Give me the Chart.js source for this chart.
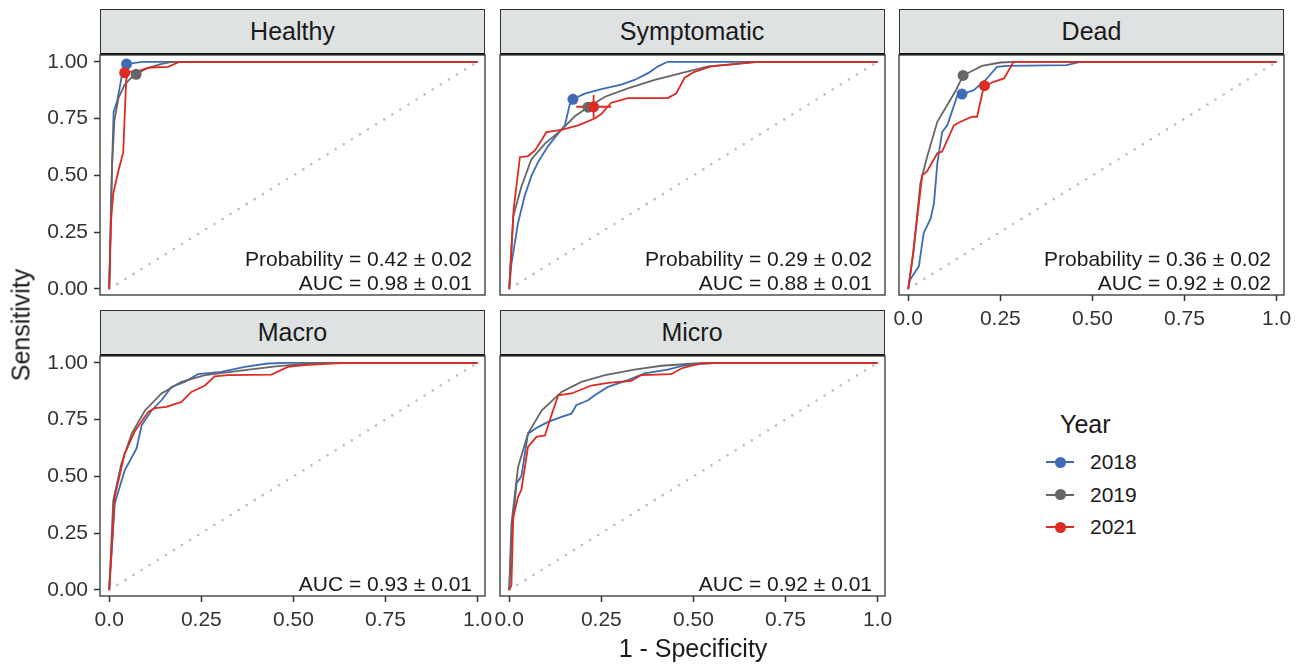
<!DOCTYPE html>
<html>
<head>
<meta charset="utf-8">
<script src="https://cdn.jsdelivr.net/npm/chart.js@4/dist/chart.umd.min.js"></script>
<style>
  body { margin: 0; background: #fff; width: 1303px; height: 665px; position: relative; overflow: hidden;
         font-family: "Liberation Sans", Arial, sans-serif; color: #1a1a1a; }
  canvas { position: absolute; }
  .strip { position: absolute; background: #dee2e2; border: 1px solid #333; border-bottom: 2px solid #111;
           box-sizing: border-box; text-align: center; font-size: 25px; line-height: 43px; }
  .title { position: absolute; font-size: 25px; white-space: nowrap; }
  .key { position: absolute; width: 28px; height: 2px; }
  .key i { position: absolute; left: 9px; top: -4.5px; width: 11px; height: 11px; border-radius: 50%; }
  .keylab { position: absolute; font-size: 21px; line-height: 24px; }
</style>
</head>
<body>
<script>
const years = ['2018', '2019', '2021'];
const yearColors = ['#3d6cb4', '#666666', '#dc2b22'];
const panelNames = ['Healthy', 'Symptomatic', 'Dead', 'Macro', 'Micro'];
const xTickValues = [0, 0.25, 0.5, 0.75, 1];
const xTickLabels = ['0.0', '0.25', '0.50', '0.75', '1.0'];
const yTickValues = [0, 0.25, 0.5, 0.75, 1];
const yTickLabels = ['0.00', '0.25', '0.50', '0.75', '1.00'];

// ROC curves: [1 - specificity, sensitivity]
const healthy2018 = [[0,0],[0.006,0.45],[0.012,0.78],[0.022,0.83],[0.03,0.9],[0.038,0.975],[0.048,0.99],[0.07,0.995],[0.09,1],[1,1]];
const healthy2019 = [[0,0],[0.008,0.55],[0.014,0.74],[0.025,0.84],[0.042,0.9],[0.06,0.93],[0.073,0.945],[0.1,0.97],[0.14,0.99],[0.17,1],[1,1]];
const healthy2021 = [[0,0],[0.005,0.3],[0.011,0.42],[0.025,0.52],[0.033,0.57],[0.038,0.6],[0.046,0.92],[0.052,0.955],[0.08,0.96],[0.11,0.975],[0.16,0.978],[0.19,1],[1,1]];

const symptomatic2018 = [[0,0],[0.006,0.11],[0.024,0.29],[0.042,0.41],[0.061,0.5],[0.079,0.56],[0.106,0.63],[0.133,0.685],[0.151,0.72],[0.164,0.81],[0.173,0.835],[0.205,0.86],[0.25,0.88],[0.304,0.9],[0.34,0.92],[0.377,0.95],[0.404,0.98],[0.43,1],[1,1]];
const symptomatic2019 = [[0,0],[0.011,0.32],[0.033,0.45],[0.06,0.57],[0.097,0.64],[0.142,0.7],[0.178,0.76],[0.214,0.8],[0.26,0.846],[0.322,0.883],[0.395,0.92],[0.467,0.95],[0.54,0.98],[0.61,0.99],[0.68,1],[1,1]];
const symptomatic2021 = [[0,0],[0.012,0.35],[0.029,0.58],[0.051,0.585],[0.07,0.61],[0.101,0.69],[0.142,0.7],[0.187,0.72],[0.232,0.75],[0.25,0.77],[0.277,0.82],[0.322,0.84],[0.43,0.84],[0.453,0.86],[0.476,0.93],[0.503,0.956],[0.548,0.98],[0.61,0.99],[0.666,1],[1,1]];

const dead2018 = [[0,0],[0.005,0.04],[0.029,0.1],[0.042,0.246],[0.061,0.31],[0.07,0.378],[0.079,0.553],[0.092,0.69],[0.106,0.72],[0.133,0.85],[0.146,0.858],[0.178,0.875],[0.21,0.92],[0.241,0.978],[0.268,0.982],[0.43,0.985],[0.467,1],[1,1]];
const dead2019 = [[0,0],[0.015,0.17],[0.033,0.466],[0.051,0.58],[0.079,0.736],[0.106,0.81],[0.128,0.87],[0.149,0.94],[0.169,0.956],[0.2,0.982],[0.25,0.997],[0.29,1],[1,1]];
const dead2021 = [[0,0],[0.011,0.13],[0.038,0.5],[0.051,0.517],[0.079,0.597],[0.092,0.605],[0.124,0.72],[0.142,0.736],[0.173,0.758],[0.187,0.758],[0.205,0.89],[0.232,0.912],[0.26,0.927],[0.286,1],[1,1]];

const macro2018 = [[0,0],[0.015,0.38],[0.042,0.526],[0.074,0.622],[0.088,0.725],[0.115,0.79],[0.142,0.835],[0.169,0.894],[0.205,0.916],[0.241,0.95],[0.304,0.96],[0.368,0.982],[0.43,0.997],[0.485,1],[1,1]];
const macro2019 = [[0,0],[0.011,0.394],[0.033,0.556],[0.061,0.688],[0.097,0.79],[0.142,0.865],[0.196,0.916],[0.26,0.946],[0.368,0.968],[0.458,0.985],[0.548,0.997],[0.61,1],[1,1]];
const macro2021 = [[0,0],[0.015,0.41],[0.042,0.6],[0.07,0.7],[0.106,0.784],[0.124,0.8],[0.155,0.806],[0.196,0.828],[0.223,0.872],[0.26,0.9],[0.286,0.94],[0.322,0.946],[0.44,0.948],[0.485,0.982],[0.53,0.99],[0.64,1],[1,1]];

const micro2018 = [[0,0],[0.007,0.25],[0.02,0.47],[0.033,0.5],[0.051,0.688],[0.079,0.718],[0.106,0.74],[0.142,0.762],[0.169,0.776],[0.182,0.813],[0.214,0.835],[0.232,0.857],[0.268,0.894],[0.322,0.924],[0.368,0.953],[0.43,0.97],[0.467,0.985],[0.52,0.997],[0.575,1],[1,1]];
const micro2019 = [[0,0],[0.006,0.29],[0.024,0.54],[0.051,0.688],[0.088,0.79],[0.142,0.872],[0.196,0.916],[0.26,0.946],[0.34,0.97],[0.413,0.987],[0.503,0.997],[0.575,1],[1,1]];
const micro2021 = [[0,0],[0.006,0.02],[0.011,0.32],[0.024,0.41],[0.033,0.44],[0.051,0.63],[0.074,0.674],[0.097,0.68],[0.11,0.747],[0.133,0.857],[0.169,0.865],[0.223,0.9],[0.268,0.912],[0.331,0.92],[0.359,0.946],[0.44,0.95],[0.467,0.975],[0.52,0.997],[0.575,1],[1,1]];

// optimal cut-off points per year (2018, 2019, 2021)
const healthyCut = [[0.047,0.99],[0.073,0.945],[0.042,0.952]];
const symptomaticCut = [[0.173,0.835],[0.214,0.8],[0.229,0.802]];
const deadCut = [[0.146,0.858],[0.149,0.94],[0.207,0.895]];
// error bars of the 2021 symptomatic cut-off
const symptomaticErrX = [0.182, 0.277];
const symptomaticErrY = [0.751, 0.854];

const probLabels = ['Probability = 0.42 ± 0.02', 'Probability = 0.29 ± 0.02', 'Probability = 0.36 ± 0.02'];
const aucLabels = ['AUC = 0.98 ± 0.01', 'AUC = 0.88 ± 0.01', 'AUC = 0.92 ± 0.02', 'AUC = 0.93 ± 0.01', 'AUC = 0.92 ± 0.01'];

const FONT = '"Liberation Sans", Arial, sans-serif';
const toXY = arr => arr.map(p => ({x: p[0], y: p[1]}));

// border + text in the bottom right corner of each panel
const panelDeco = {
  id: 'panelDeco',
  afterDatasetsDraw(chart, args, opts) {
    const a = chart.chartArea, ctx = chart.ctx;
    const lines = opts.lines || [];
    ctx.save();
    ctx.font = '21px ' + FONT;
    ctx.fillStyle = '#1a1a1a';
    ctx.textAlign = 'right';
    ctx.textBaseline = 'alphabetic';
    lines.forEach((t, k) => {
      ctx.fillText(t, a.right - 13, a.bottom - 5 - (lines.length - 1 - k) * 24);
    });
    ctx.strokeStyle = '#333';
    ctx.lineWidth = 1.3;
    ctx.strokeRect(a.left, a.top, a.right - a.left, a.bottom - a.top);
    ctx.restore();
  }
};

function makePanel(idx, left, top, curves, cuts, showX, showY) {
  const strip = document.createElement('div');
  strip.className = 'strip';
  strip.style.left = left + 'px';
  strip.style.top = (top - 46) + 'px';
  strip.style.width = '385px';
  strip.style.height = '46px';
  strip.textContent = panelNames[idx];
  document.body.appendChild(strip);

  const cv = document.createElement('canvas');
  cv.width = 510; cv.height = 295;
  cv.style.left = (left - 100) + 'px';
  cv.style.top = (top - 10) + 'px';
  document.body.appendChild(cv);

  // back to front
  let ds = [];
  ds.push({ data: [{x: 0, y: 0}, {x: 1, y: 1}], showLine: true, borderColor: '#bdbdbd', borderWidth: 2.6,
            borderDash: [0, 9.5], borderCapStyle: 'round', pointRadius: 0 });
  curves.forEach((c, k) => {
    ds.push({ data: toXY(c), showLine: true, borderColor: yearColors[k], borderWidth: 1.8,
              pointRadius: 0, tension: 0 });
  });
  if (idx === 1) {
    ds.push({ data: [{x: symptomaticErrX[0], y: cuts[2][1]}, {x: symptomaticErrX[1], y: cuts[2][1]}],
              showLine: true, borderColor: yearColors[2], borderWidth: 1.8, pointRadius: 0 });
    ds.push({ data: [{x: cuts[2][0], y: symptomaticErrY[0]}, {x: cuts[2][0], y: symptomaticErrY[1]}],
              showLine: true, borderColor: yearColors[2], borderWidth: 1.8, pointRadius: 0 });
  }
  if (cuts) {
    cuts.forEach((p, k) => {
      ds.push({ data: [{x: p[0], y: p[1]}], pointRadius: 5.5, pointBackgroundColor: yearColors[k],
                pointBorderWidth: 0, showLine: false });
    });
  }
  ds = ds.reverse();

  const lines = idx < 3 ? [probLabels[idx], aucLabels[idx]] : [aucLabels[idx]];

  new Chart(cv, {
    type: 'scatter',
    data: { datasets: ds },
    plugins: [panelDeco],
    options: {
      responsive: false, animation: false, devicePixelRatio: 1,
      layout: { padding: { top: 10, right: 25, left: 0, bottom: 0 } },
      plugins: { legend: { display: false }, tooltip: { enabled: false }, panelDeco: { lines: lines } },
      scales: {
        x: {
          type: 'linear', min: -0.025, max: 1.02,
          border: { display: false },
          grid: { display: showX, drawOnChartArea: false, drawTicks: true, tickLength: 6, tickColor: '#333', tickWidth: 1.5 },
          ticks: { display: showX, autoSkip: false, maxRotation: 0, padding: 6, color: '#333',
                   font: { size: 21, family: FONT },
                   callback: v => xTickLabels[xTickValues.indexOf(v)] },
          afterBuildTicks: s => { s.ticks = xTickValues.map(v => ({ value: v })); },
          afterFit: s => { s.height = 45; s.paddingLeft = 0; s.paddingRight = 0; }
        },
        y: {
          type: 'linear', min: -0.027, max: 1.03,
          border: { display: false },
          grid: { display: showY, drawOnChartArea: false, drawTicks: true, tickLength: 6, tickColor: '#333', tickWidth: 1.5 },
          ticks: { display: showY, autoSkip: false, padding: 6, color: '#333',
                   font: { size: 21, family: FONT },
                   callback: v => yTickLabels[yTickValues.indexOf(v)] },
          afterBuildTicks: s => { s.ticks = yTickValues.map(v => ({ value: v })); },
          afterFit: s => { s.width = 100; s.paddingTop = 0; s.paddingBottom = 0; }
        }
      }
    }
  });
}

makePanel(0, 100, 55, [healthy2018, healthy2019, healthy2021], healthyCut, false, true);
makePanel(1, 499.5, 55, [symptomatic2018, symptomatic2019, symptomatic2021], symptomaticCut, false, false);
makePanel(2, 899, 55, [dead2018, dead2019, dead2021], deadCut, true, false);
makePanel(3, 100, 356, [macro2018, macro2019, macro2021], null, true, true);
makePanel(4, 499.5, 356, [micro2018, micro2019, micro2021], null, true, false);

// axis titles
function addText(cls, txt, css) {
  const d = document.createElement('div');
  d.className = cls;
  d.textContent = txt;
  Object.assign(d.style, css);
  document.body.appendChild(d);
  return d;
}
addText('title', '1 - Specificity', { left: '693px', top: '648px', transform: 'translate(-50%,-50%)' });
addText('title', 'Sensitivity', { left: '21px', top: '325px', transform: 'translate(-50%,-50%) rotate(-90deg)' });

// legend
addText('title', 'Year', { left: '1060px', top: '410px' });
years.forEach((yr, k) => {
  const cy = 462 + k * 32.5;
  const key = document.createElement('div');
  key.className = 'key';
  key.style.left = '1046px';
  key.style.top = (cy - 1) + 'px';
  key.style.background = yearColors[k];
  const dot = document.createElement('i');
  dot.style.background = yearColors[k];
  key.appendChild(dot);
  document.body.appendChild(key);
  addText('keylab', yr, { left: '1090px', top: (cy - 12) + 'px' });
});
</script>
</body>
</html>
